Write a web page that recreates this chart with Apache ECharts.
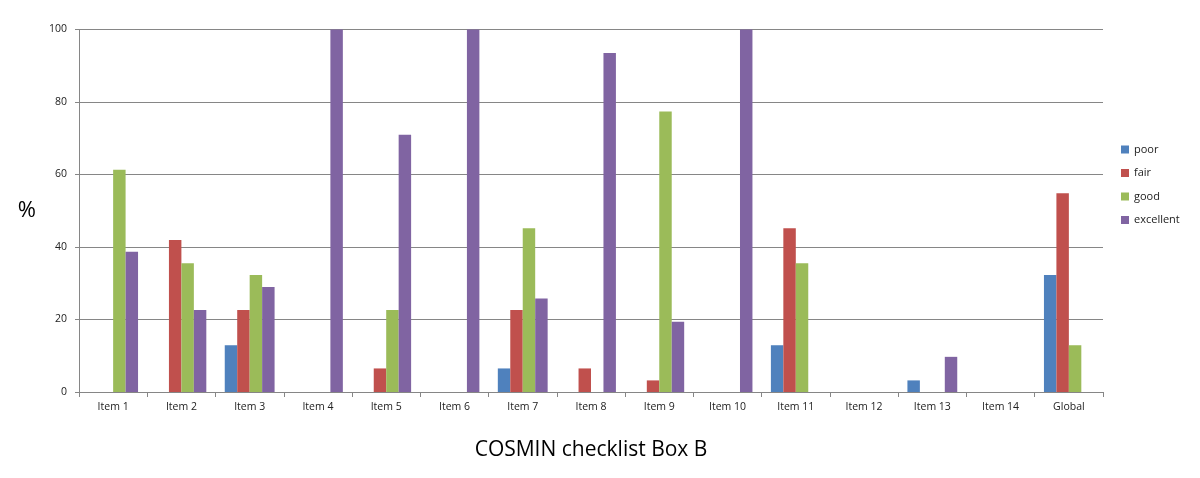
<!DOCTYPE html>
<html>
<head>
<meta charset="utf-8">
<script src="https://cdn.jsdelivr.net/npm/echarts@6/dist/echarts.min.js"></script>
<style>
  html, body { margin: 0; padding: 0; background: #fff; }
  #chart { width: 1200px; height: 478px; }
</style>
</head>
<body>
<div id="chart"></div>
<script>
// COSMIN checklist Box B, % of studies per rating
const categories = ['Item 1', 'Item 2', 'Item 3', 'Item 4', 'Item 5', 'Item 6', 'Item 7',
  'Item 8', 'Item 9', 'Item 10', 'Item 11', 'Item 12', 'Item 13', 'Item 14', 'Global']
const poor      = [0, 0, 12.9, 0, 0, 0, 6.5, 0, 0, 0, 12.9, 0, 3.2, 0, 32.3]
const fair      = [0, 41.9, 22.6, 0, 6.5, 0, 22.6, 6.5, 3.2, 0, 45.2, 0, 0, 0, 54.8]
const good      = [61.3, 35.5, 32.3, 0, 22.6, 0, 45.2, 0, 77.4, 0, 35.5, 0, 0, 0, 12.9]
const excellent = [38.7, 22.6, 29.0, 100, 71.0, 100, 25.8, 93.5, 19.4, 100, 0, 0, 9.7, 0, 0]
const yTicks = [0, 20, 40, 60, 80, 100]

const colors = ['#4F81BD', '#C0504D', '#9BBB59', '#8064A2']
const font = 'Open Sans, sans-serif'

const chart = echarts.init(document.getElementById('chart'))

const mkSeries = (name, data, color) => ({
  name,
  type: 'bar',
  data,
  barGap: '0%',
  barCategoryGap: '27%',
  itemStyle: { color },
  animation: false
})

chart.setOption({
  animation: false,
  grid: { left: 79, right: 97, top: 29.5, bottom: 86 },
  legend: {
    orient: 'vertical',
    left: 1116,
    top: 139,
    itemWidth: 8,
    itemHeight: 8,
    itemGap: 12.5,
    icon: 'rect',
    textStyle: { fontFamily: font, fontSize: 11, color: '#222' },
    data: ['poor', 'fair', 'good', 'excellent']
  },
  xAxis: {
    type: 'category',
    data: categories,
    name: 'COSMIN checklist Box B',
    nameLocation: 'middle',
    nameGap: 48,
    nameTextStyle: { fontFamily: font, fontSize: 21, color: '#000' },
    axisLine: { lineStyle: { color: '#868686', width: 1 } },
    axisTick: { show: true, length: 5, lineStyle: { color: '#868686' } },
    axisLabel: { fontFamily: font, fontSize: 10.5, color: '#222', margin: 10 }
  },
  yAxis: {
    type: 'value',
    min: 0,
    max: 100,
    interval: 20,
    name: '%',
    nameLocation: 'middle',
    nameRotate: 0,
    nameGap: 43,
    nameTextStyle: { fontFamily: font, fontSize: 22, color: '#000', padding: [14, 0, 0, 0] },
    axisLine: { show: true, lineStyle: { color: '#868686', width: 1 } },
    axisTick: { show: true, length: 4, lineStyle: { color: '#868686' } },
    axisLabel: {
      fontFamily: font, fontSize: 10.5, color: '#222', margin: 12,
      formatter: v => (yTicks.includes(v) ? String(v) : '')
    },
    splitLine: { lineStyle: { color: '#868686', width: 1 } }
  },
  series: [
    mkSeries('poor', poor, colors[0]),
    mkSeries('fair', fair, colors[1]),
    mkSeries('good', good, colors[2]),
    mkSeries('excellent', excellent, colors[3])
  ]
})
</script>
</body>
</html>
